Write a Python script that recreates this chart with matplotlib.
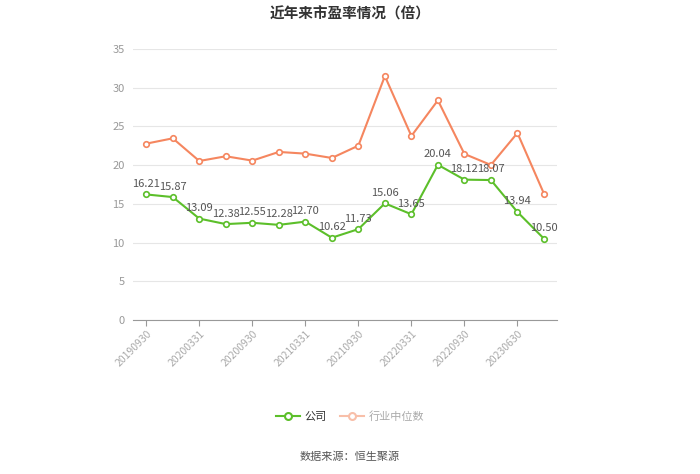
import matplotlib
matplotlib.use('Agg')
import matplotlib.pyplot as plt
from matplotlib.lines import Line2D

plt.rcParams['font.family'] = ['Noto Sans CJK SC', 'DejaVu Sans']

# Data
dates = ['20190930', '20191231', '20200331', '20200630', '20200930', '20201231',
         '20210331', '20210630', '20210930', '20211231', '20220331', '20220630',
         '20220930', '20221231', '20230630', '20230930']
company = [16.21, 15.87, 13.09, 12.38, 12.55, 12.28, 12.70, 10.62,
           11.73, 15.06, 13.65, 20.04, 18.12, 18.07, 13.94, 10.50]
industry = [22.77, 23.46, 20.53, 21.14, 20.58, 21.70, 21.48, 20.92,
            22.51, 31.50, 23.76, 28.37, 21.44, 20.02, 24.15, 16.31]

green = '#5cbf2a'
orange = '#f5865f'

fig = plt.figure(figsize=(7, 4.74), dpi=100)
ax = fig.add_axes([0.19, 0.325, 0.606, 0.5717])

x = list(range(len(dates)))
ax.plot(x, industry, color=orange, lw=1.5, marker='o', ms=4,
        mfc='white', mec=orange, mew=1.2, zorder=3)
ax.plot(x, company, color=green, lw=1.5, marker='o', ms=4,
        mfc='white', mec=green, mew=1.2, zorder=4)

for xi, v in zip(x, company):
    ax.annotate(f'{v:.2f}', (xi, v), xytext=(0, 4), textcoords='offset points',
                ha='center', va='bottom', fontsize=8, color='#555555', zorder=5)

ax.set_xlim(-0.5, len(dates) - 0.5)
ax.set_ylim(0, 35)
ax.set_yticks(range(0, 36, 5))
ax.grid(axis='y', color='#e6e6e6', lw=0.8)
ax.set_axisbelow(True)

ax.set_xticks(x[::2])
ax.set_xticklabels(dates[::2], rotation=45, ha='right', rotation_mode='anchor',
                   fontsize=7.5, color='#aaaaaa')
ax.tick_params(axis='x', length=4, color='#999999', pad=2)
ax.tick_params(axis='y', length=0, labelsize=8, labelcolor='#999999', pad=6)

for side in ['top', 'right', 'left']:
    ax.spines[side].set_visible(False)
ax.spines['bottom'].set_color('#999999')

fig.text(0.5, 0.972, '近年来市盈率情况（倍）', ha='center', va='center',
         fontsize=10.5, fontweight='bold', color='#333333')

handles = [
    Line2D([], [], color=green, lw=1.5, marker='o', ms=5, mfc='white', mec=green, mew=1.5),
    Line2D([], [], color='#f8bfa9', lw=1.5, marker='o', ms=5, mfc='white', mec='#f8bfa9', mew=1.5),
]
leg = fig.legend(handles, ['公司', '行业中位数'], loc='center', bbox_to_anchor=(0.5, 0.122),
                 ncol=2, frameon=False, fontsize=8, handlelength=2.2,
                 columnspacing=1.2, handletextpad=0.4)
leg.get_texts()[0].set_color('#333333')
leg.get_texts()[1].set_color('#aaaaaa')

fig.text(0.5, 0.036, '数据来源：恒生聚源', ha='center', va='center',
         fontsize=8, color='#555555')

fig.savefig('out.png', dpi=100)
